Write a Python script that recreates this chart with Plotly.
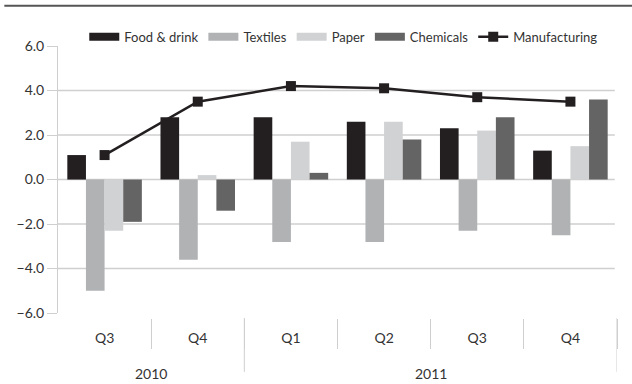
import plotly.graph_objects as go

# Quarterly output growth by sector, % change on a year earlier
years = ["2010", "2010", "2011", "2011", "2011", "2011"]
quarters = ["Q3", "Q4", "Q1", "Q2", "Q3", "Q4"]

food_drink = [1.1, 2.8, 2.8, 2.6, 2.3, 1.3]
textiles = [-5.0, -3.6, -2.8, -2.8, -2.3, -2.5]
paper = [-2.3, 0.2, 1.7, 2.6, 2.2, 1.5]
chemicals = [-1.9, -1.4, 0.3, 1.8, 2.8, 3.6]
manufacturing = [1.1, 3.5, 4.2, 4.1, 3.7, 3.5]

y_ticks = [-6, -4, -2, 0, 2, 4, 6]
grid_vals = [-4, -2, 0, 2, 4]

series = [
    ("Food & drink", food_drink, "#231f20"),
    ("Textiles", textiles, "#b1b2b4"),
    ("Paper", paper, "#d1d2d3"),
    ("Chemicals", chemicals, "#646464"),
]
line_color = "#231f20"
grid_color = "#cfcfcf"
text_color = "#333333"
font_family = "Lato, 'Open Sans', sans-serif"

n = len(quarters)
pos = list(range(n))                      # one slot per quarter
bounds = [i + 0.5 for i in range(n)]      # slot edges (right side of each quarter)

# Year groups: centre of each run of quarters and the edge closing it
year_names, year_mid, year_edges = [], [], []
start = 0
for i in range(1, n + 1):
    if i == n or years[i] != years[start]:
        year_names.append(years[start])
        year_mid.append((start + i - 1) / 2)
        year_edges.append(i - 0.5)
        start = i

fig = go.Figure()

for name, vals, color in series:
    fig.add_trace(go.Bar(
        x=pos, y=vals, name=name, marker=dict(color=color, line=dict(width=0)),
        showlegend=False, legendgroup=name,
    ))

fig.add_trace(go.Scatter(
    x=pos, y=manufacturing, name="Manufacturing", mode="lines+markers",
    line=dict(color=line_color, width=2.5),
    marker=dict(symbol="square", size=10, color=line_color),
    showlegend=False, legendgroup="Manufacturing",
))

# Legend keys: wide flat swatches for the bar series, line with marker for the total
for name, vals, color in series:
    fig.add_trace(go.Scatter(
        x=pos, y=[None] * n, name=name, mode="lines",
        line=dict(color=color, width=8), legendgroup=name, hoverinfo="skip",
    ))
fig.add_trace(go.Scatter(
    x=pos, y=[None] * n, name="Manufacturing", mode="lines+markers",
    line=dict(color=line_color, width=2.5),
    marker=dict(symbol="square", size=10, color=line_color),
    legendgroup="Manufacturing", hoverinfo="skip",
))

# Horizontal gridlines (none at the axis ends)
for g in grid_vals:
    fig.add_shape(type="line", xref="paper", yref="y", x0=0, x1=0.996, y0=g, y1=g,
                  line=dict(color=grid_color, width=1.5), layer="below")

# Longer dividers closing each year group
for e in year_edges:
    fig.add_shape(type="line", xref="x", yref="paper", x0=e, x1=e, y0=0, y1=-0.198,
                  line=dict(color=grid_color, width=1))

# Year labels under the quarter labels
for name, m in zip(year_names, year_mid):
    fig.add_annotation(x=m, xref="x", y=-0.205, yref="paper", text=name,
                       showarrow=False, yanchor="middle",
                       font=dict(size=14, color=text_color))

# Rule across the top of the chart
fig.add_shape(type="line", xref="paper", yref="paper", x0=-0.096, x1=1.03,
              y0=1.148, y1=1.148, line=dict(color="#555555", width=2))

fig.update_layout(
    width=632, height=384,
    margin=dict(l=58, r=15, t=46, b=66),
    paper_bgcolor="white", plot_bgcolor="white",
    barmode="group", bargap=0.2, bargroupgap=0,
    font=dict(family=font_family, size=13, color=text_color),
    legend=dict(orientation="h", x=0.047, xanchor="left", y=1.034, yanchor="middle",
                font=dict(size=13, color=text_color), itemwidth=30,
                bgcolor="rgba(0,0,0,0)", traceorder="normal"),
    xaxis=dict(
        range=[-0.5, 5.5],
        anchor="free", position=0,
        showline=False, showgrid=False, zeroline=False,
        tickmode="array", tickvals=pos, ticktext=quarters,
        ticks="", ticklabelstandoff=10,
        minor=dict(tickmode="array", tickvals=bounds, ticks="outside",
                   ticklen=30, tickwidth=1, tickcolor=grid_color, showgrid=False),
        tickfont=dict(size=14, color=text_color),
    ),
    yaxis=dict(
        domain=[0.018, 1], range=[-6, 6],
        tickmode="array", tickvals=y_ticks, tickformat=".1f",
        showline=True, linecolor=grid_color, linewidth=1,
        ticks="outside", ticklen=10, tickwidth=1, tickcolor=grid_color,
        showgrid=False, zeroline=False,
        tickfont=dict(size=14, color=text_color),
    ),
)

fig.write_html("out.html")
